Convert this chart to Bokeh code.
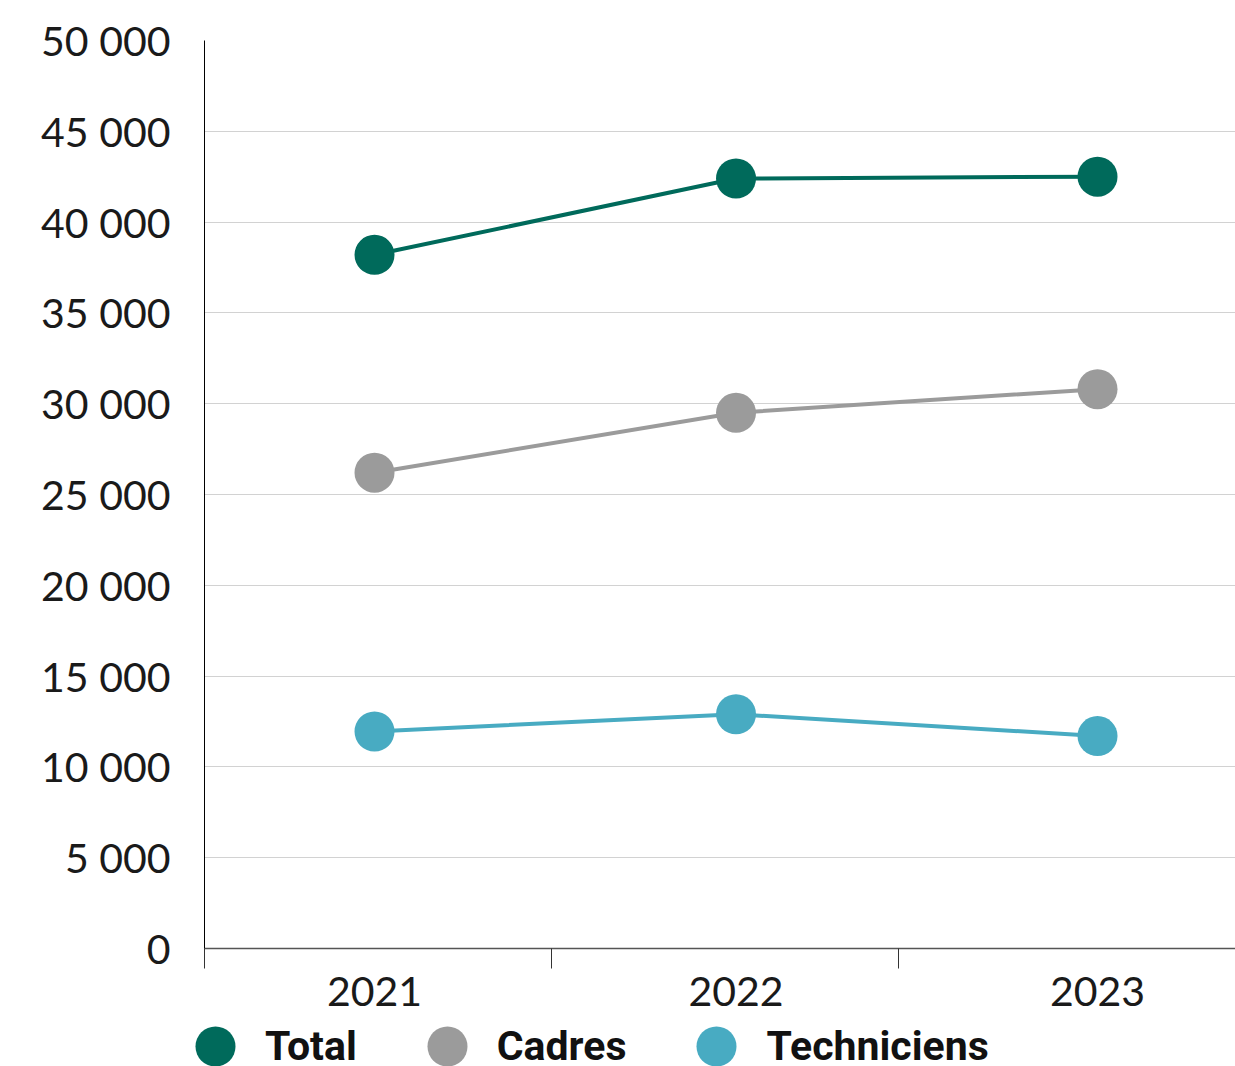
from bokeh.plotting import figure
from bokeh.layouts import column
from bokeh.models import Range1d, FixedTicker, Legend, LegendItem
from bokeh.embed import file_html
from bokeh.resources import INLINE

# Effectifs par catégorie
years = [2021, 2022, 2023]
total = [38200, 42400, 42500]
cadres = [26200, 29500, 30800]
techniciens = [11950, 12900, 11700]

series_names = ["Total", "Cadres", "Techniciens"]
series_colors = ["#006A5B", "#9B9B9B", "#48ABC2"]
series_values = [total, cadres, techniciens]

y_ticks = [0, 5000, 10000, 15000, 20000, 25000, 30000, 35000, 40000, 45000, 50000]
y_tick_labels = ["0", "5 000", "10 000", "15 000", "20 000", "25 000",
                 "30 000", "35 000", "40 000", "45 000", "50 000"]
x_tick_labels = ["2021", "2022", "2023"]

TICK_FONT = "Lato"
LEGEND_FONT = "Roboto"

# horizontal extent of the plotting area and the category separators
x_start = 2020.5297
x_end = 2023.3817
sep_step = 0.96
separators = [x_start + k * sep_step for k in range(3)]

p = figure(width=1235, height=1016, output_backend="svg", toolbar_location=None,
           x_range=Range1d(x_start, x_end), y_range=Range1d(0, 50000),
           min_border_left=204, min_border_right=0, min_border_top=40,
           min_border_bottom=68)
p.outline_line_color = None
p.background_fill_color = "white"
p.border_fill_color = "white"

for vals, col in zip(series_values, series_colors):
    p.line(years, vals, line_color=col, line_width=4)
    p.scatter(years, vals, size=40, fill_color=col, line_color=col, line_width=0)

# y axis
p.yaxis.ticker = FixedTicker(ticks=y_ticks)
p.yaxis.major_label_overrides = {t: s for t, s in zip(y_ticks, y_tick_labels)}
p.yaxis.major_tick_out = 0
p.yaxis.major_tick_in = 0
p.yaxis.minor_tick_out = 0
p.yaxis.minor_tick_in = 0
p.yaxis.axis_line_color = "#000000"
p.yaxis.axis_line_width = 1
p.yaxis.major_label_text_font = TICK_FONT
p.yaxis.major_label_text_font_size = "41px"
p.yaxis.major_label_text_color = "#1a1a1a"
p.yaxis.major_label_standoff = 34

# x axis: labels at each year, tick marks between categories
p.xaxis.ticker = FixedTicker(ticks=years, minor_ticks=separators)
p.xaxis.major_label_overrides = {y: s for y, s in zip(years, x_tick_labels)}
p.xaxis.major_tick_out = 0
p.xaxis.major_tick_in = 0
p.xaxis.minor_tick_out = 20
p.xaxis.minor_tick_in = 0
p.xaxis.minor_tick_line_color = "#333333"
p.xaxis.minor_tick_line_width = 1
p.xaxis.axis_line_color = "#555555"
p.xaxis.axis_line_width = 1.5
p.xaxis.major_label_text_font = TICK_FONT
p.xaxis.major_label_text_font_size = "41px"
p.xaxis.major_label_text_color = "#1a1a1a"
p.xaxis.major_label_standoff = 8

p.xgrid.grid_line_color = None
p.ygrid.ticker = FixedTicker(ticks=y_ticks)
p.ygrid.grid_line_color = "#d2d2d2"
p.ygrid.grid_line_width = 1

# legend strip under the chart; its ranges keep the series themselves out of view
leg = figure(width=1235, height=50, output_backend="svg", toolbar_location=None,
             x_range=Range1d(0, 1), y_range=Range1d(0, 1),
             x_axis_location=None, y_axis_location=None,
             min_border_left=0, min_border_right=0, min_border_top=0,
             min_border_bottom=0)
leg.frame_align = False
leg.grid.visible = False
leg.outline_line_color = None
leg.background_fill_color = "white"
leg.border_fill_color = "white"

legend_items = []
for name, vals, col in zip(series_names, series_values, series_colors):
    key = leg.scatter(years, vals, size=40, fill_color=col, line_color=col, line_width=0)
    legend_items.append(LegendItem(label=name, renderers=[key]))

# legend markers are drawn at 0.4 x the glyph box, hence the 100 px box
legend = Legend(items=legend_items, orientation="horizontal", location=(165, -30),
                glyph_width=100, glyph_height=100, label_height=100,
                label_standoff=0, spacing=40, padding=0, margin=0,
                border_line_color=None, background_fill_alpha=0,
                label_text_font=LEGEND_FONT, label_text_font_style="bold",
                label_text_font_size="41px", label_text_color="#111111")
leg.add_layout(legend, "center")

layout = column(p, leg, spacing=0)
open("out.html", "w").write(file_html(layout, INLINE))
